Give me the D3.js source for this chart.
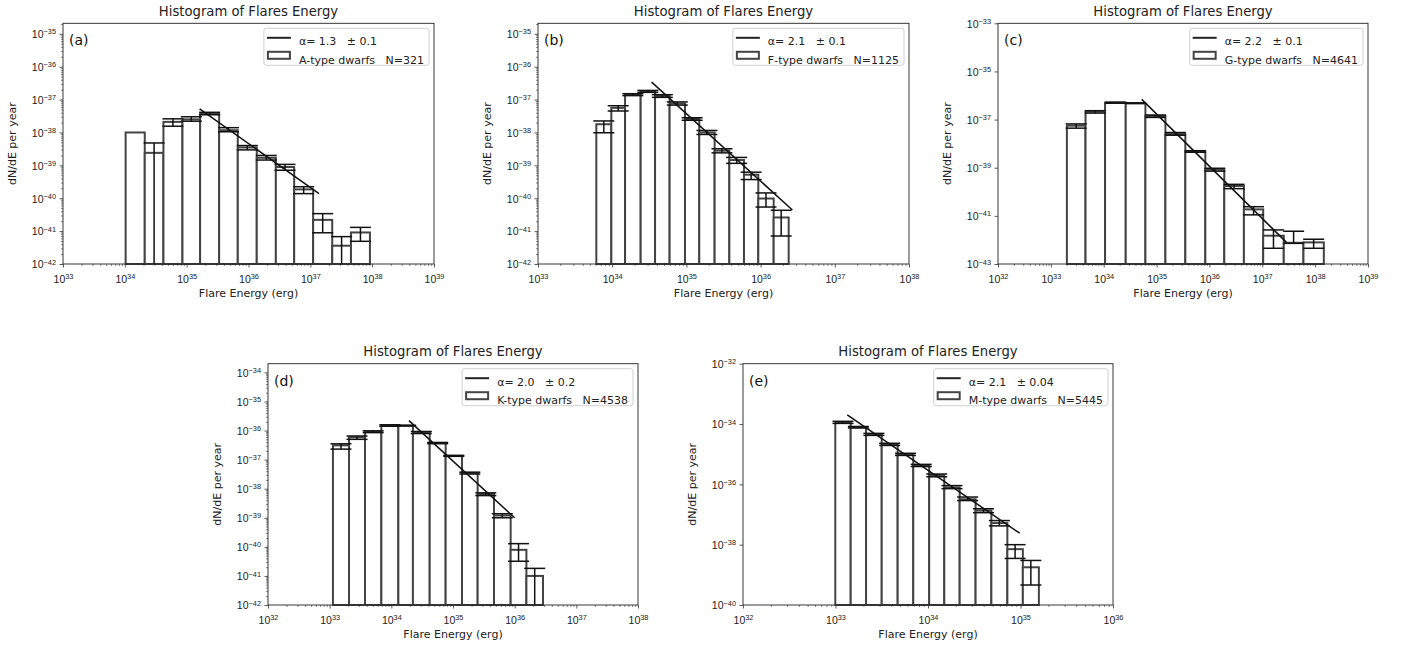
<!DOCTYPE html>
<html>
<head>
<meta charset="utf-8">
<script src="https://cdnjs.cloudflare.com/ajax/libs/d3/7.8.5/d3.min.js"></script>
<style>
  body { margin: 0; background: #fff; }
  svg { font-family: "DejaVu Sans", sans-serif; }
</style>
</head>
<body>
<script>
// ---- data (bin edges in erg, dN/dE per year) ----
// (a) A-type
const edgesA = [1.03e34, 2.10e34, 4.21e34, 8.55e34, 1.65e35, 3.35e35, 6.71e35, 1.36e36, 2.77e36, 5.48e36, 1.11e37, 2.26e37, 4.54e37, 9.20e37];
const valsA  = [1.0e-38, 2.4e-39, 2.1e-38, 2.5e-38, 3.7e-38, 1.17e-38, 3.5e-39, 1.7e-39, 8.9e-40, 1.86e-40, 2.2e-41, 3.6e-42, 9.1e-42];
const hiA    = [null, 4.8e-39, 2.6e-38, 3.0e-38, 4.1e-38, 1.4e-38, 4.0e-39, 2.0e-39, 1.07e-39, 2.24e-40, 3.4e-41, 6.8e-42, 1.3e-41];
const loA    = [null, null, 1.55e-38, 2.2e-38, 3.45e-38, 1.05e-38, 2.95e-39, 1.45e-39, 7.1e-40, 1.38e-40, 8.9e-42, null, 4.9e-42];
const fitXA  = [1.62e35, 1.38e37];
const fitYA  = [5.2e-38, 1.38e-40];

// (b) F-type
const edgesB = [6.11e33, 9.73e33, 1.49e34, 2.42e34, 3.78e34, 5.94e34, 9.57e34, 1.49e35, 2.40e35, 3.79e35, 5.97e35, 9.31e35, 1.50e36, 2.39e36];
const valsB  = [1.78e-38, 5.6e-38, 1.41e-37, 1.82e-37, 1.29e-37, 7.6e-38, 2.57e-38, 1.0e-38, 2.8e-39, 1.45e-39, 5.2e-40, 9.8e-41, 2.6e-41];
const hiB    = [2.24e-38, 6.5e-38, 1.51e-37, 1.9e-37, 1.41e-37, 8.5e-38, 2.8e-38, 1.15e-38, 3.2e-39, 1.74e-39, 6.2e-40, 1.45e-40, 4.3e-41];
const loB    = [9.8e-39, 4.5e-38, 1.32e-37, 1.66e-37, 1.17e-37, 6.8e-38, 2.35e-38, 8.7e-39, 2.4e-39, 1.15e-39, 3.7e-40, 5.4e-41, 7.1e-42];
const fitXB  = [3.4e34, 2.68e36];
const fitYB  = [3.4e-37, 4.4e-41];

// (c) G-type
const edgesC = [2.01e33, 4.53e33, 1.06e34, 2.61e34, 6.15e34, 1.47e35, 3.50e35, 8.36e35, 1.91e36, 4.49e36, 1.04e37, 2.55e37, 6.01e37, 1.46e38];
const valsC  = [5.6e-38, 2.14e-37, 5.0e-37, 4.8e-37, 1.41e-37, 2.5e-38, 4.8e-39, 8.3e-40, 1.74e-40, 1.86e-41, 1.5e-42, 7.6e-43, 7.9e-43];
const hiC    = [6.6e-38, 2.34e-37, 5.3e-37, 4.95e-37, 1.55e-37, 2.9e-38, 5.1e-39, 9.5e-40, 2.04e-40, 2.4e-41, 2.6e-42, 2.3e-42, 1.07e-42];
const loC    = [4.4e-38, 1.86e-37, 4.8e-37, 4.65e-37, 1.23e-37, 2.24e-38, 4.4e-39, 7.2e-40, 1.35e-40, 1.1e-41, 4.5e-43, 7.2e-43, 4.5e-43];
const fitXC  = [5.24e34, 2.87e37];
const fitYC  = [6.9e-37, 7.9e-43];

// (d) K-type
const edgesD = [1.13e33, 2.06e33, 3.74e33, 6.89e33, 1.30e34, 2.24e34, 4.19e34, 7.60e34, 1.40e35, 2.51e35, 4.62e35, 8.61e35, 1.55e36, 2.88e36];
const valsD  = [3.1e-37, 5.9e-37, 9.1e-37, 1.51e-36, 1.48e-36, 8.7e-37, 3.7e-37, 1.35e-37, 3.5e-38, 6.6e-39, 1.2e-39, 7.9e-41, 1.0e-41];
const hiD    = [3.5e-37, 6.5e-37, 9.8e-37, 1.58e-36, 1.52e-36, 9.3e-37, 3.9e-37, 1.4e-37, 3.7e-38, 7.2e-39, 1.38e-39, 1.29e-40, 1.82e-41];
const loD    = [2.3e-37, 5.0e-37, 8.5e-37, 1.41e-36, 1.44e-36, 7.9e-37, 3.55e-37, 1.3e-37, 3.2e-38, 5.8e-39, 1.0e-39, 3.2e-41, null];
const fitXD  = [1.93e34, 1.0e36];
const fitYD  = [2.19e-36, 1.0e-39];

// (e) M-type
const edgesE = [9.95e32, 1.46e33, 2.14e33, 3.16e33, 4.70e33, 6.93e33, 1.03e34, 1.50e34, 2.20e34, 3.27e34, 4.84e34, 7.21e34, 1.06e35, 1.58e35];
const valsE  = [1.10e-34, 7.8e-35, 4.6e-35, 2.14e-35, 9.8e-36, 4.3e-36, 2.0e-36, 7.9e-37, 3.2e-37, 1.35e-37, 5.2e-38, 7.1e-39, 1.78e-39];
const hiE    = [1.23e-34, 8.3e-35, 4.9e-35, 2.3e-35, 1.07e-35, 4.6e-36, 2.2e-36, 9.1e-37, 3.8e-37, 1.55e-37, 6.3e-38, 1.0e-38, 3.0e-39];
const loE    = [1.05e-34, 7.4e-35, 4.2e-35, 1.95e-35, 9.1e-36, 3.9e-36, 1.78e-36, 7.2e-37, 2.9e-37, 1.15e-37, 4.2e-38, 3.5e-39, 4.6e-40];
const fitXE  = [1.34e33, 9.8e34];
const fitYE  = [2.0e-34, 2.4e-38];

// panel letters + legend texts
const panelTags = ["(a)", "(b)", "(c)", "(d)", "(e)"];
const fitLabels = ["α= 1.3   ± 0.1", "α= 2.1   ± 0.1", "α= 2.2   ± 0.1", "α= 2.0   ± 0.2", "α= 2.1   ± 0.04"];
const histLabels = ["A-type dwarfs   N=321", "F-type dwarfs   N=1125", "G-type dwarfs   N=4641", "K-type dwarfs   N=4538", "M-type dwarfs   N=5445"];

// tick exponents
const xExpA = [33, 34, 35, 36, 37, 38, 39], yExpA = [-42, -41, -40, -39, -38, -37, -36, -35];
const xExpB = [33, 34, 35, 36, 37, 38],     yExpB = [-42, -41, -40, -39, -38, -37, -36, -35];
const xExpC = [32, 33, 34, 35, 36, 37, 38, 39], yExpC = [-43, -41, -39, -37, -35, -33];
const xExpD = [32, 33, 34, 35, 36, 37, 38], yExpD = [-42, -41, -40, -39, -38, -37, -36, -35, -34];
const xExpE = [32, 33, 34, 35, 36],         yExpE = [-40, -38, -36, -34, -32];

const W = 1415, H = 648;
const svg = d3.select("body").append("svg").attr("width", W).attr("height", H);

// layout of the 5 axes boxes
const panels = [
  {left: 63,  right: 434,  top: 23.3,  bottom: 264, xd: [1e33, 1e39], yd: [1e-42, Math.pow(10, -34.68)], yMinor: true,
   edges: edgesA, vals: valsA, hi: hiA, lo: loA, fx: fitXA, fy: fitYA, xe: xExpA, ye: yExpA},
  {left: 538, right: 909,  top: 23.3,  bottom: 264, xd: [1e33, 1e38], yd: [1e-42, Math.pow(10, -34.68)], yMinor: true,
   edges: edgesB, vals: valsB, hi: hiB, lo: loB, fx: fitXB, fy: fitYB, xe: xExpB, ye: yExpB},
  {left: 998, right: 1368, top: 23.3,  bottom: 264, xd: [1e32, 1e39], yd: [1e-43, 1e-33], yMinor: false,
   edges: edgesC, vals: valsC, hi: hiC, lo: loC, fx: fitXC, fy: fitYC, xe: xExpC, ye: yExpC},
  {left: 268, right: 638,  top: 363.7, bottom: 605, xd: [1e32, 1e38], yd: [1e-42, Math.pow(10, -33.70)], yMinor: true,
   edges: edgesD, vals: valsD, hi: hiD, lo: loD, fx: fitXD, fy: fitYD, xe: xExpD, ye: yExpD},
  {left: 743, right: 1113, top: 363.7, bottom: 605, xd: [1e32, 1e36], yd: [1e-40, 1e-32], yMinor: false,
   edges: edgesE, vals: valsE, hi: hiE, lo: loE, fx: fitXE, fy: fitYE, xe: xExpE, ye: yExpE}
];

function minorTicks(domain) {
  let out = [];
  let k0 = Math.floor(Math.log10(domain[0])), k1 = Math.ceil(Math.log10(domain[1]));
  for (let k = k0; k < k1; k++)
    for (let m = 2; m <= 9; m++) {
      let v = m * Math.pow(10, k);
      if (v > domain[0] && v < domain[1]) out.push(v);
    }
  return out;
}

// turn a tick label into 10 + superscript
function powerLabel(textSel) {
  textSel.each(function(d) {
    let e = Math.round(Math.log10(d));
    let t = d3.select(this).text(null);
    t.append("tspan").text("10");
    t.append("tspan").attr("dy", "-0.5em").attr("font-size", "0.7em")
      .text(e < 0 ? "\u2212" + (-e) : String(e));
  });
}

panels.forEach((p, i) => {
  const g = svg.append("g");
  const x = d3.scaleLog().domain(p.xd).range([p.left, p.right]);
  const y = d3.scaleLog().domain(p.yd).range([p.bottom, p.top]);

  const bins = p.vals.map((v, j) => ({x0: p.edges[j], x1: p.edges[j + 1], v: v, hi: p.hi[j], lo: p.lo[j]}));

  // histogram bars
  g.selectAll("rect.bar").data(bins).join("rect").attr("class", "bar")
    .attr("x", d => x(d.x0))
    .attr("width", d => x(d.x1) - x(d.x0))
    .attr("y", d => y(d.v))
    .attr("height", d => p.bottom - y(d.v))
    .attr("fill", "#fff")
    .attr("stroke", "#444")
    .attr("stroke-width", 2);

  // error bars (lower end off the axis when it is <= 0)
  const cx = d => (x(d.x0) + x(d.x1)) / 2;
  const eb = bins.filter(d => d.hi != null);
  const cap = 10.5;
  g.selectAll("line.err").data(eb).join("line").attr("class", "err")
    .attr("x1", cx).attr("x2", cx)
    .attr("y1", d => y(d.hi))
    .attr("y2", d => d.lo == null ? p.bottom : y(d.lo))
    .attr("stroke", "#111").attr("stroke-width", 1.5);
  g.selectAll("line.capHi").data(eb).join("line").attr("class", "capHi")
    .attr("x1", d => cx(d) - cap).attr("x2", d => cx(d) + cap)
    .attr("y1", d => y(d.hi)).attr("y2", d => y(d.hi))
    .attr("stroke", "#111").attr("stroke-width", 1.5);
  g.selectAll("line.capLo").data(eb.filter(d => d.lo != null)).join("line").attr("class", "capLo")
    .attr("x1", d => cx(d) - cap).attr("x2", d => cx(d) + cap)
    .attr("y1", d => y(d.lo)).attr("y2", d => y(d.lo))
    .attr("stroke", "#111").attr("stroke-width", 1.5);

  // power law fit
  const fit = p.fx.map((v, j) => [v, p.fy[j]]);
  g.append("path").datum(fit)
    .attr("d", d3.line().x(d => x(d[0])).y(d => y(d[1])))
    .attr("fill", "none").attr("stroke", "#111").attr("stroke-width", 1.5);

  // axes
  const xMaj = p.xe.map(e => Math.pow(10, e));
  const yMaj = p.ye.map(e => Math.pow(10, e));

  const gx = g.append("g").attr("transform", `translate(0,${p.bottom})`)
    .call(d3.axisBottom(x).tickValues(xMaj).tickSize(3.5).tickPadding(3.5).tickFormat(d => d));
  gx.select(".domain").remove();
  gx.selectAll("text").attr("font-size", 10.5).attr("fill", "#222").attr("dy", "1.15em").call(powerLabel);
  gx.selectAll("line").attr("stroke", "#333").attr("stroke-width", 0.8);

  const gxm = g.append("g").attr("transform", `translate(0,${p.bottom})`)
    .call(d3.axisBottom(x).tickValues(minorTicks(p.xd)).tickSize(2).tickFormat(""));
  gxm.select(".domain").remove();
  gxm.selectAll("line").attr("stroke", "#333").attr("stroke-width", 0.6);

  const gy = g.append("g").attr("transform", `translate(${p.left},0)`)
    .call(d3.axisLeft(y).tickValues(yMaj).tickSize(3.5).tickPadding(3.5).tickFormat(d => d));
  gy.select(".domain").remove();
  gy.selectAll("text").attr("font-size", 10.5).attr("fill", "#222").attr("dy", "0.36em").call(powerLabel);
  gy.selectAll("line").attr("stroke", "#333").attr("stroke-width", 0.8);

  if (p.yMinor) {
    const gym = g.append("g").attr("transform", `translate(${p.left},0)`)
      .call(d3.axisLeft(y).tickValues(minorTicks(p.yd)).tickSize(2).tickFormat(""));
    gym.select(".domain").remove();
    gym.selectAll("line").attr("stroke", "#333").attr("stroke-width", 0.6);
  }

  // frame
  g.append("rect").attr("x", p.left).attr("y", p.top)
    .attr("width", p.right - p.left).attr("height", p.bottom - p.top)
    .attr("fill", "none").attr("stroke", "#222").attr("stroke-width", 0.9);

  // titles and labels
  g.append("text").attr("x", (p.left + p.right) / 2).attr("y", p.top - 7.5)
    .attr("text-anchor", "middle").attr("font-size", 13.2).attr("fill", "#222")
    .text("Histogram of Flares Energy");
  g.append("text").attr("x", (p.left + p.right) / 2).attr("y", p.bottom + 33)
    .attr("text-anchor", "middle").attr("font-size", 11).attr("fill", "#222")
    .text("Flare Energy (erg)");
  g.append("text").attr("transform", `translate(${p.left - 47},${(p.top + p.bottom) / 2}) rotate(-90)`)
    .attr("text-anchor", "middle").attr("font-size", 11).attr("fill", "#222")
    .text("dN/dE per year");
  g.append("text").attr("x", p.left + 6).attr("y", p.top + 22)
    .attr("font-size", 14).attr("fill", "#111").text(panelTags[i]);

  // legend
  const lg = g.append("g");
  const lbox = lg.append("rect");
  const t1 = lg.append("text").attr("font-size", 11).attr("fill", "#222")
    .style("white-space", "pre").text(fitLabels[i]);
  const t2 = lg.append("text").attr("font-size", 11).attr("fill", "#222")
    .style("white-space", "pre").text(histLabels[i]);
  const tw = Math.max(t1.node().getComputedTextLength(), t2.node().getComputedTextLength());
  const bw = 35 + tw + 5, bh = 37;
  const bx = p.right - 5 - bw, by = p.top + 5;
  lbox.attr("x", bx).attr("y", by).attr("width", bw).attr("height", bh).attr("rx", 2.5)
    .attr("fill", "rgba(255,255,255,0.8)").attr("stroke", "#d0d0d0").attr("stroke-width", 1);
  t1.attr("x", bx + 35).attr("y", by + 13 + 4);
  t2.attr("x", bx + 35).attr("y", by + 27 + 8.5);
  lg.append("line").attr("x1", bx + 3).attr("x2", bx + 27).attr("y1", by + 9.5).attr("y2", by + 9.5)
    .attr("stroke", "#222").attr("stroke-width", 2);
  lg.append("rect").attr("x", bx + 4).attr("y", by + 23.5).attr("width", 22).attr("height", 7)
    .attr("fill", "#fff").attr("stroke", "#444").attr("stroke-width", 2);
});
</script>
</body>
</html>
